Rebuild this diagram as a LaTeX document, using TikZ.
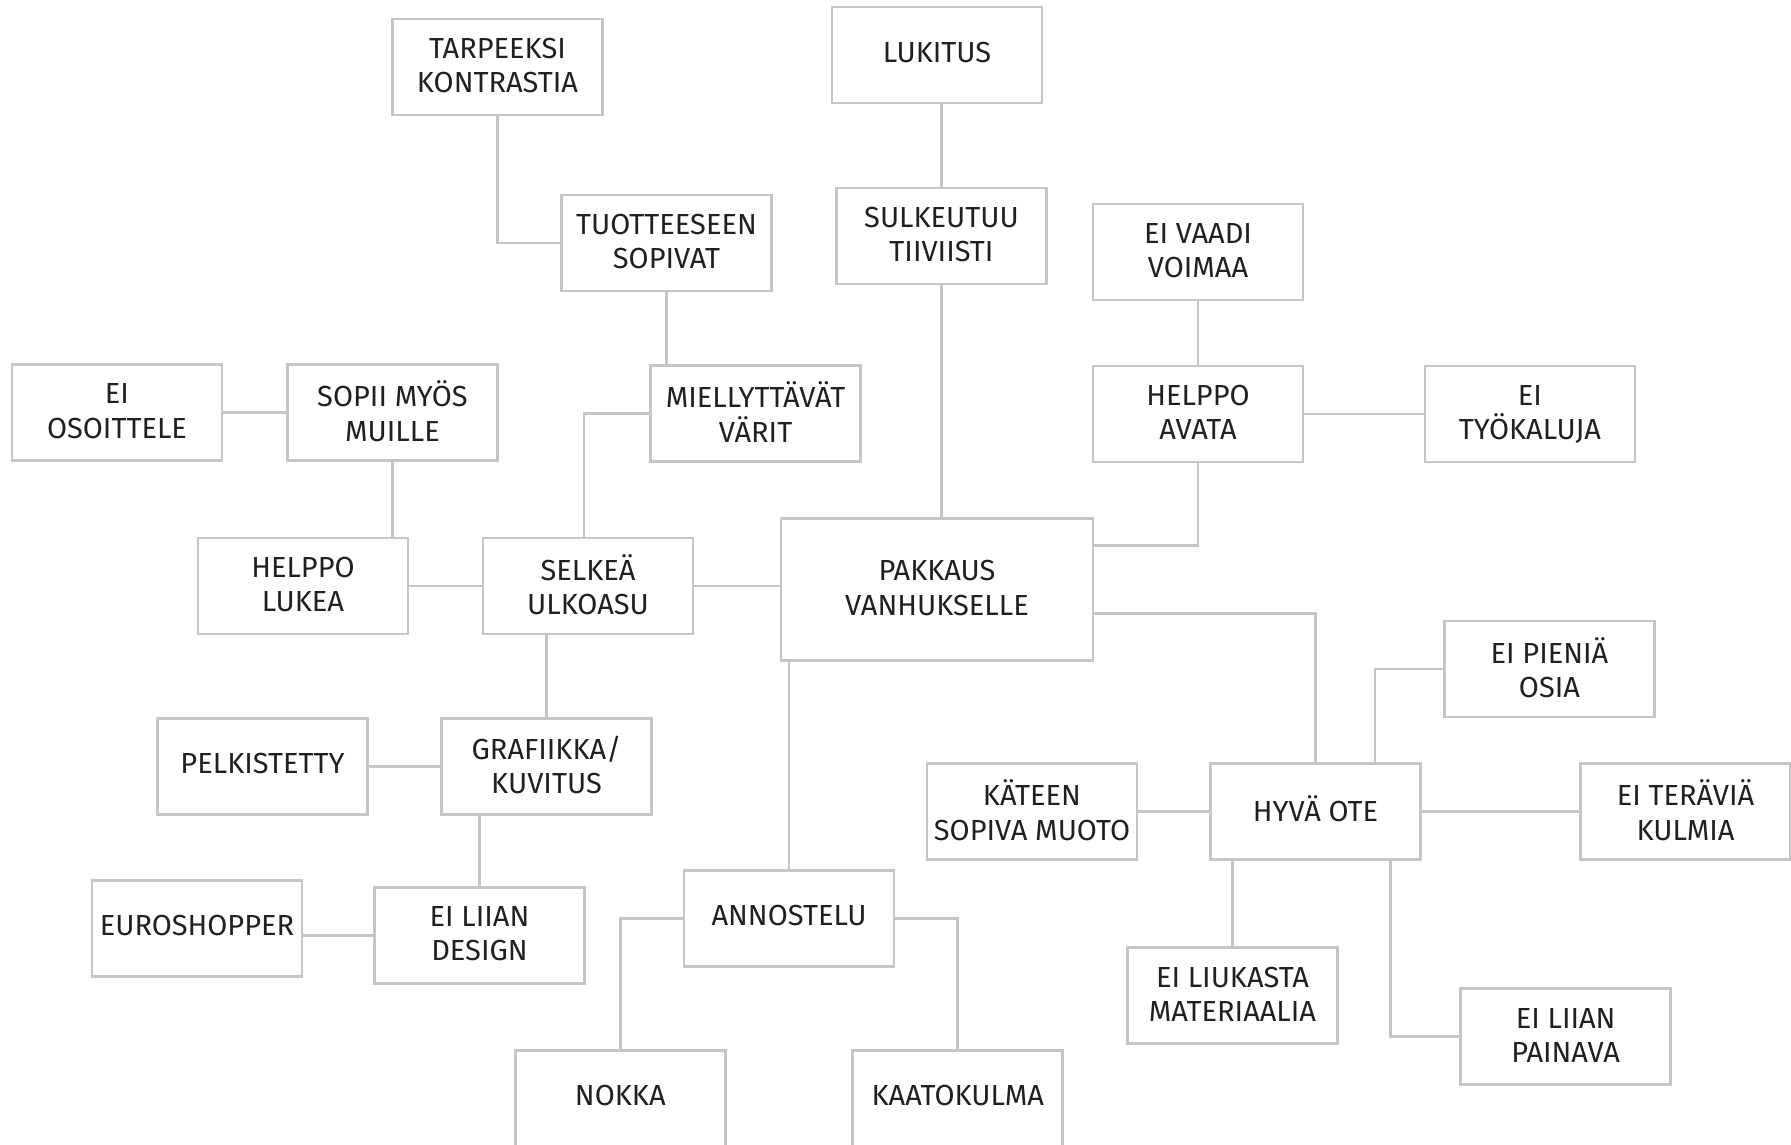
\documentclass[tikz,border=0pt]{standalone}
\usepackage{fontspec}
\setmainfont{Fira Sans}
\definecolor{linegray}{RGB}{198,198,202}
\definecolor{textgray}{RGB}{35,31,32}
\begin{document}
\begin{tikzpicture}[x=1pt, y=-1pt,
		box/.style={draw=linegray, line width=2.8pt, fill=white, minimum width=210pt, minimum height=96pt,
			inner sep=0pt, text depth=3pt, align=center, text=textgray, font=\fontsize{29}{34.3}\selectfont},
		single/.style={box, text depth=6pt},
		big/.style={box, minimum width=312pt, minimum height=142pt},
		link/.style={draw=linegray, line width=2.8pt}
		]
	\useasboundingbox (0,0) rectangle (1791,1144);
	\node [big] (pakkaus) at (937,589.4) {PAKKAUS\\VANHUKSELLE};
	\node [box] (tarpeeksi) at (497.5,67) {TARPEEKSI\\KONTRASTIA};
	\node [single] (lukitus) at (937,55) {LUKITUS};
	\node [box] (tuotteeseen) at (666.5,243) {TUOTTEESEEN\\SOPIVAT};
	\node [box] (sulkeutuu) at (941.5,236) {SULKEUTUU\\TIIVIISTI};
	\node [box] (eivaadi) at (1198,252) {EI VAADI\\VOIMAA};
	\node [box] (eiosoittele) at (117,412.5) {EI\\OSOITTELE};
	\node [box] (sopii) at (392.5,412.5) {SOPII MYÖS\\MUILLE};
	\node [box] (miellyttavat) at (755.5,413.5) {MIELLYTTÄVÄT\\VÄRIT};
	\node [box] (helppoavata) at (1198,414) {HELPPO\\AVATA};
	\node [box] (eityokaluja) at (1530,414) {EI\\TYÖKALUJA};
	\node [box] (helppolukea) at (303,586) {HELPPO\\LUKEA};
	\node [box] (selkea) at (588,586) {SELKEÄ\\ULKOASU};
	\node [box] (eipienia) at (1549.5,669) {EI PIENIÄ\\OSIA};
	\node [single] (pelkistetty) at (262.5,766.5) {PELKISTETTY};
	\node [box] (grafiikka) at (546.5,766.5) {GRAFIIKKA/\\KUVITUS};
	\node [box] (kateen) at (1032,811.5) {KÄTEEN\\SOPIVA MUOTO};
	\node [single] (hyvaote) at (1315.5,811.5) {HYVÄ OTE};
	\node [box] (eiteravia) at (1685.5,811.5) {EI TERÄVIÄ\\KULMIA};
	\node [single] (euroshopper) at (197,928.3) {EUROSHOPPER};
	\node [box] (eiliiandesign) at (479.5,935.2) {EI LIIAN\\DESIGN};
	\node [single] (annostelu) at (789,918.6) {ANNOSTELU};
	\node [single] (nokka) at (620.3,1098.3) {NOKKA};
	\node [single] (kaatokulma) at (957.8,1098.3) {KAATOKULMA};
	\node [box] (eiliukasta) at (1232.5,995.8) {EI LIUKASTA\\MATERIAALIA};
	\node [box] (eipainava) at (1565.7,1036.8) {EI LIIAN\\PAINAVA};
	\coordinate (b1) at (1198,545.4);
	\coordinate (b2) at (1315.5,613.6);
	\draw [link] (tarpeeksi.south) |- (tuotteeseen.west);
	\draw [link] (sulkeutuu.north) -- (sulkeutuu.north |- lukitus.south);
	\draw [link] (tuotteeseen.south) -- (tuotteeseen.south |- miellyttavat.north);
	\draw [link] (sulkeutuu.south) -- (sulkeutuu.south |- pakkaus.north);
	\draw [link] (eivaadi.south) -- (helppoavata.north);
	\draw [link] (helppoavata.east) -- (eityokaluja.west);
	\draw [link] (helppoavata.south) -- (b1) -- (b1 -| pakkaus.east);
	\draw [link] (eiosoittele.east) -- (sopii.west);
	\draw [link] (sopii.south) -- (sopii.south |- helppolukea.north);
	\draw [link] (helppolukea.east) -- (selkea.west);
	\draw [link] ([xshift=-4pt]selkea.north) |- (miellyttavat.west);
	\draw [link] (selkea.east) -- (selkea.east -| pakkaus.west);
	\draw [link] (grafiikka.north) -- (grafiikka.north |- selkea.south);
	\draw [link] (pelkistetty.east) -- (grafiikka.west);
	\draw [link] (eiliiandesign.north) -- (eiliiandesign.north |- grafiikka.south);
	\draw [link] (eiliiandesign.west) -- (eiliiandesign.west -| euroshopper.east);
	\draw [link] (annostelu.north) -- (annostelu.north |- pakkaus.south);
	\draw [link] (annostelu.west) -| (nokka.north);
	\draw [link] (annostelu.east) -| (kaatokulma.north);
	\draw [link] (b2 -| pakkaus.east) -- (b2) -- (hyvaote.north);
	\draw [link] ([xshift=59.5pt]hyvaote.north) |- (eipienia.west);
	\draw [link] (kateen.east) -- (hyvaote.west);
	\draw [link] (hyvaote.east) -- (eiteravia.west);
	\draw [link] (eiliukasta.north) -- (eiliukasta.north |- hyvaote.south);
	\draw [link] ([xshift=75pt]hyvaote.south) |- (eipainava.west);
\end{tikzpicture}
\end{document}
